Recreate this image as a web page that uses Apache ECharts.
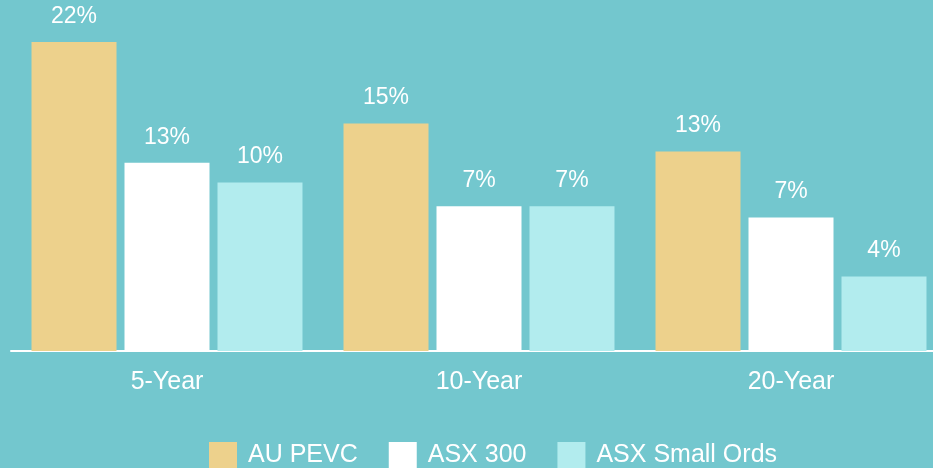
<!DOCTYPE html>
<html>
<head>
<meta charset="utf-8">
<script src="https://cdn.jsdelivr.net/npm/echarts@6/dist/echarts.min.js"></script>
<style>
    html, body { margin: 0; padding: 0; background: #73C7CE; }
    #chart { width: 933px; height: 468px; }
</style>
</head>
<body>
<div id="chart"></div>
<script>
// categories and series (bar values, labels as printed)
var periods = ['5-Year', '10-Year', '20-Year'];
var seriesNames = ['AU PEVC', 'ASX 300', 'ASX Small Ords'];
var pevc = [22, 16.2, 14.2];
var asx300 = [13.4, 10.3, 9.5];
var smallOrds = [12.0, 10.3, 5.3];
var pevcLabels = ['22%', '15%', '13%'];
var asx300Labels = ['13%', '7%', '7%'];
var smallOrdsLabels = ['10%', '7%', '4%'];

var font = 'Liberation Sans, Arial, sans-serif';

function makeSeries(name, values, labels, color) {
    return {
        name: name,
        type: 'bar',
        barWidth: 85,
        barGap: '9.4%',
        data: values,
        itemStyle: { color: color },
        label: {
            show: true,
            position: 'top',
            distance: 14,
            color: '#fff',
            fontSize: 23,
            fontFamily: font,
            formatter: function (p) { return labels[p.dataIndex]; }
        }
    };
}

var myChart = echarts.init(document.getElementById('chart'));
var option = {
    backgroundColor: '#73C7CE',
    animation: false,
    // plot runs past the right edge, like the cropped original
    grid: { left: 11, width: 936, top: 42, bottom: 117, outerBoundsMode: 'none' },
    legend: {
        left: 204,
        top: 437,
        icon: 'rect',
        itemWidth: 28,
        itemHeight: 27,
        itemGap: 31,
        textStyle: { color: '#fff', fontSize: 25, fontFamily: font, padding: [0, 0, 0, 6] },
        data: seriesNames
    },
    xAxis: {
        type: 'category',
        data: periods,
        axisLine: { lineStyle: { color: '#fff', width: 2 } },
        axisTick: { show: false },
        axisLabel: { color: '#fff', fontSize: 25, fontFamily: font, margin: 19 }
    },
    yAxis: {
        type: 'value',
        min: 0,
        max: 22,
        show: false
    },
    series: [
        makeSeries(seriesNames[0], pevc, pevcLabels, '#EDD18C'),
        makeSeries(seriesNames[1], asx300, asx300Labels, '#FFFFFF'),
        makeSeries(seriesNames[2], smallOrds, smallOrdsLabels, '#B2ECEE')
    ]
};
myChart.setOption(option);
</script>
</body>
</html>
